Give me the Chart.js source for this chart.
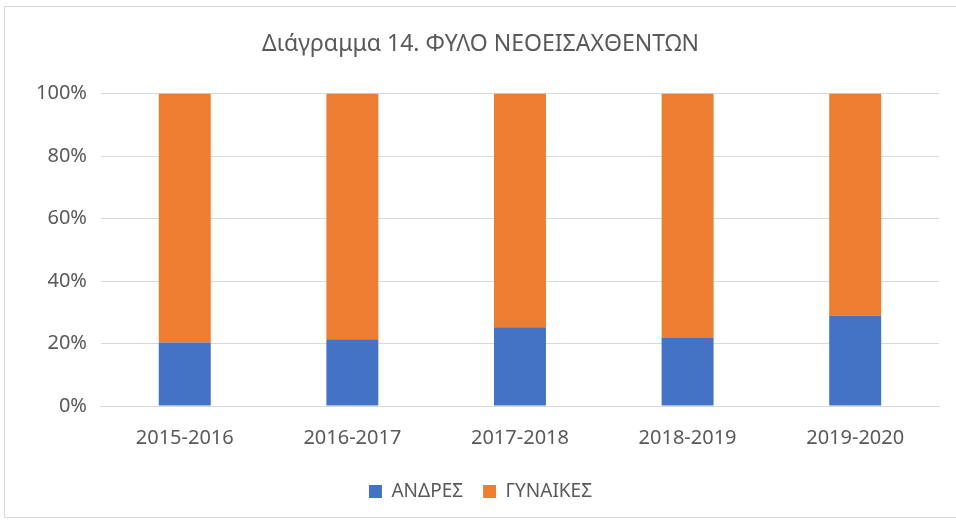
<!DOCTYPE html>
<html>
<head>
<meta charset="utf-8">
<script src="https://cdn.jsdelivr.net/npm/chart.js@4"></script>
<style>
    html, body { margin: 0; padding: 0; background: #fff; overflow: hidden; }
    #box { position: absolute; left: 4px; top: 6px; width: 960px; height: 512px; border: 1px solid #d9d9d9; box-sizing: border-box; }
</style>
</head>
<body>
<div id="box"><canvas id="barChart"></canvas></div>
<script>
// Ακαδημαϊκά έτη
const years = ['2015-2016', '2016-2017', '2017-2018', '2018-2019', '2019-2020'];
// Ποσοστό ανδρών (%)
const andres = [20.3, 21.4, 25.2, 21.8, 28.9];
// Ποσοστό γυναικών (%)
const gynaikes = [79.7, 78.6, 74.8, 78.2, 71.1];
const yTicks = [0, 20, 40, 60, 80, 100];

const textColor = '#595959';
const fontFamily = '"Noto Sans", "Open Sans", sans-serif';

const ctx = document.getElementById('barChart').getContext('2d');
new Chart(ctx, {
    type: 'bar',
    data: {
        labels: years,
        datasets: [
            {
                label: 'ΑΝΔΡΕΣ',
                backgroundColor: '#4472c4',
                data: andres,
                categoryPercentage: 1,
                barPercentage: 0.31,
            },
            {
                label: 'ΓΥΝΑΙΚΕΣ',
                backgroundColor: '#ed7d31',
                data: gynaikes,
                categoryPercentage: 1,
                barPercentage: 0.31,
            },
        ],
    },
    options: {
        maintainAspectRatio: false,
        animation: false,
        layout: {
            padding: { left: 17, right: 24, top: 12, bottom: 6 }
        },
        plugins: {
            title: {
                display: true,
                text: 'Διάγραμμα 14. ΦΥΛΟ ΝΕΟΕΙΣΑΧΘΕΝΤΩΝ',
                color: textColor,
                font: { family: fontFamily, size: 23, weight: 'normal' },
                padding: { top: 12, bottom: 35 }
            },
            legend: {
                position: 'bottom',
                labels: {
                    color: textColor,
                    boxWidth: 13,
                    boxHeight: 13,
                    padding: 20,
                    font: { family: fontFamily, size: 19 }
                }
            },
            tooltip: { enabled: false }
        },
        scales: {
            x: {
                stacked: true,
                grid: { display: false },
                border: { color: '#d9d9d9' },
                ticks: {
                    color: textColor,
                    padding: 12,
                    font: { family: fontFamily, size: 20 }
                }
            },
            y: {
                stacked: true,
                min: 0,
                max: 100,
                afterBuildTicks: function (axis) {
                    axis.ticks = yTicks.map(v => ({ value: v }));
                },
                grid: { color: '#d9d9d9', drawTicks: false },
                border: { display: false },
                ticks: {
                    color: textColor,
                    padding: 14,
                    font: { family: fontFamily, size: 20 },
                    callback: function (value) { return value + '%'; }
                }
            }
        }
    }
});
</script>
</body>
</html>
